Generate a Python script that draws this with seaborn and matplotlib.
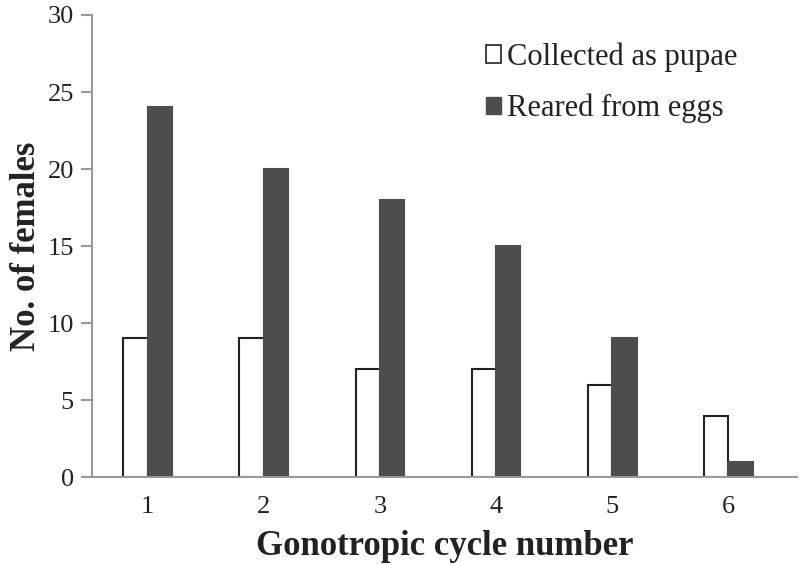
import pandas as pd
import matplotlib.pyplot as plt
import seaborn as sns
from matplotlib.patches import Patch

# Data
cycles = ["1", "2", "3", "4", "5", "6"]
collected = [9, 9, 7, 7, 6, 4]
reared = [24, 20, 18, 15, 9, 1]
groups = ["Collected as pupae", "Reared from eggs"]

df = pd.DataFrame({
    "Cycle": cycles * 2,
    "Females": collected + reared,
    "Group": [groups[0]] * len(cycles) + [groups[1]] * len(cycles),
})

sns.set_style("white")
plt.rcParams["font.family"] = ["Liberation Serif", "DejaVu Serif"]

fig = plt.figure(figsize=(8, 5.66), dpi=100)
ax = fig.add_axes([0.115, 0.157, 0.881, 0.8165])

dark = "#4d4d4d"
sns.barplot(data=df, x="Cycle", y="Females", hue="Group",
            palette=["white", dark], width=0.42, ax=ax, legend=False)

# Edge colours: black outline for white bars, dark for filled bars
for cont, ec in zip(ax.containers, ["#222222", dark]):
    for bar in cont:
        bar.set_edgecolor(ec)
        bar.set_linewidth(1.5)

ax.set_ylim(0, 30)
ax.set_xlim(-0.48, 5.59)
ax.set_yticks(range(0, 31, 5))

for side in ["top", "right"]:
    ax.spines[side].set_visible(False)
for side in ["left", "bottom"]:
    ax.spines[side].set_color("#999999")
    ax.spines[side].set_linewidth(1.5)

ax.tick_params(axis="y", which="both", left=True, length=8, width=1.5,
               color="#999999", labelsize=19, pad=5, labelcolor="#222222")
ax.tick_params(axis="x", bottom=False, labelsize=19, pad=10, labelcolor="#222222")

ax.set_xlabel("Gonotropic cycle number", fontsize=25, fontweight="bold",
              labelpad=9, color="#222222")
ax.set_ylabel("No. of females", fontsize=25, fontweight="bold",
              labelpad=3, color="#222222")

handles = [Patch(facecolor="white", edgecolor="#222222", linewidth=1.2),
           Patch(facecolor=dark, edgecolor=dark)]
ax.legend(handles, groups, loc="upper right", bbox_to_anchor=(0.955, 1.0),
          frameon=False, fontsize=22, handlelength=0.5, handleheight=0.5,
          handletextpad=0.2, labelspacing=0.72, labelcolor="#222222")

fig.savefig("out.png", dpi=100)
